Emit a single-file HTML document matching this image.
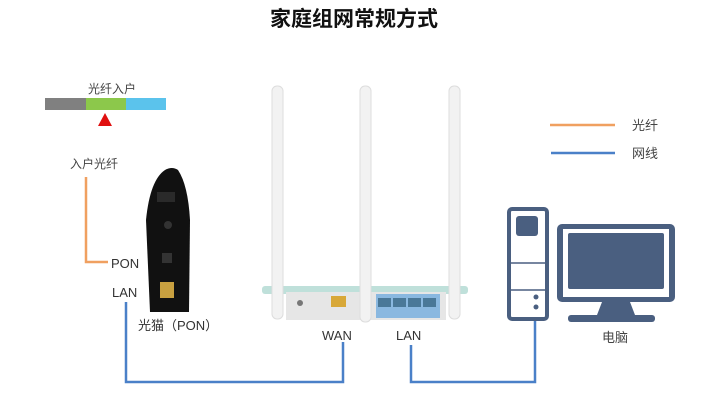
<!DOCTYPE html>
<html><head><meta charset="utf-8"><style>
html,body{margin:0;padding:0;background:#fff;}
svg{display:block;font-family:"Liberation Sans","Noto Sans CJK SC",sans-serif;}
</style></head><body>
<svg width="708" height="405" viewBox="0 0 708 405" xmlns="http://www.w3.org/2000/svg">
<rect width="708" height="405" fill="#fff"/>
<text x="354" y="26" text-anchor="middle" font-size="21" font-weight="bold" fill="#111">家庭组网常规方式</text>
<!-- bar -->
<text x="112" y="93" text-anchor="middle" font-size="12" fill="#444">光纤入户</text>
<rect x="45" y="98" width="41" height="12" fill="#808080"/>
<rect x="86" y="98" width="40" height="12" fill="#8cc84b"/>
<rect x="126" y="98" width="40" height="12" fill="#5bc3ec"/>
<polygon points="105,113 98,126 112,126" fill="#e01010"/>
<!-- fiber -->
<text x="94" y="168" text-anchor="middle" font-size="12" fill="#444">入户光纤</text>
<polyline points="86,177 86,262 108,262" fill="none" stroke="#f0a060" stroke-width="2.5"/>
<text x="111" y="268" font-size="13" fill="#333">PON</text>
<text x="112" y="297" font-size="13" fill="#333">LAN</text>
<!-- blue cables -->
<polyline points="126,302 126,382 343,382 343,342" fill="none" stroke="#4a80c8" stroke-width="2.5"/>
<polyline points="411,345 411,382 535,382 535,320" fill="none" stroke="#4a80c8" stroke-width="2.5"/>
<!-- modem -->
<path d="M150,312 L146,220 Q150,180 165,170 Q172,166 178,170 Q188,185 190,220 L189,312 Z" fill="#111"/>
<rect x="157" y="192" width="18" height="10" fill="#2a2a2a"/>
<circle cx="168" cy="225" r="4" fill="#333"/>
<rect x="162" y="253" width="10" height="10" fill="#333"/>
<rect x="160" y="282" width="14" height="16" fill="#c8a040"/>
<text x="138" y="330" font-size="13" fill="#333">光猫（PON）</text>
<!-- router -->
<rect x="262" y="286" width="206" height="8" rx="3" fill="#bfe0da"/>
<rect x="286" y="292" width="160" height="28" fill="#e6e6e6"/>
<rect x="331" y="296" width="15" height="11" fill="#d8a838"/>
<rect x="376" y="294" width="64" height="24" fill="#8ab8e0"/>
<rect x="378" y="298" width="13" height="9" fill="#4a7898"/>
<rect x="393" y="298" width="13" height="9" fill="#4a7898"/>
<rect x="408" y="298" width="13" height="9" fill="#4a7898"/>
<rect x="423" y="298" width="13" height="9" fill="#4a7898"/>
<circle cx="300" cy="303" r="3" fill="#777"/>
<rect x="272" y="86" width="11" height="233" rx="5" fill="#f2f2f2" stroke="#ddd"/>
<rect x="360" y="86" width="11" height="236" rx="5" fill="#f2f2f2" stroke="#ddd"/>
<rect x="449" y="86" width="11" height="233" rx="5" fill="#f2f2f2" stroke="#ddd"/>
<text x="322" y="340" font-size="13" fill="#333">WAN</text>
<text x="396" y="340" font-size="13" fill="#333">LAN</text>
<!-- legend -->
<line x1="550" y1="125" x2="615" y2="125" stroke="#f0a060" stroke-width="2.5"/>
<text x="632" y="130" font-size="13" fill="#444">光纤</text>
<line x1="551" y1="153" x2="615" y2="153" stroke="#4a80c8" stroke-width="2.5"/>
<text x="632" y="158" font-size="13" fill="#444">网线</text>
<!-- pc -->
<rect x="509" y="209" width="38" height="110" rx="3" fill="#fff" stroke="#4a5f80" stroke-width="4"/>
<rect x="516" y="216" width="22" height="20" rx="3" fill="#4a5f80"/>
<line x1="511" y1="263" x2="545" y2="263" stroke="#4a5f80" stroke-width="1.5"/>
<line x1="511" y1="290" x2="545" y2="290" stroke="#4a5f80" stroke-width="1.5"/>
<circle cx="536" cy="297" r="2.5" fill="#4a5f80"/>
<circle cx="536" cy="307" r="2.5" fill="#4a5f80"/>
<rect x="557" y="224" width="118" height="78" rx="5" fill="#4a5f80"/>
<rect x="563" y="229" width="106" height="68" fill="#fff"/>
<rect x="568" y="233" width="96" height="56" rx="2" fill="#4a5f80"/>
<polygon points="602,302 630,302 635,315 597,315" fill="#4a5f80"/>
<rect x="568" y="315" width="87" height="7" rx="3" fill="#4a5f80"/>
<text x="602" y="342" font-size="13" fill="#444">电脑</text>
</svg>
</body></html>
